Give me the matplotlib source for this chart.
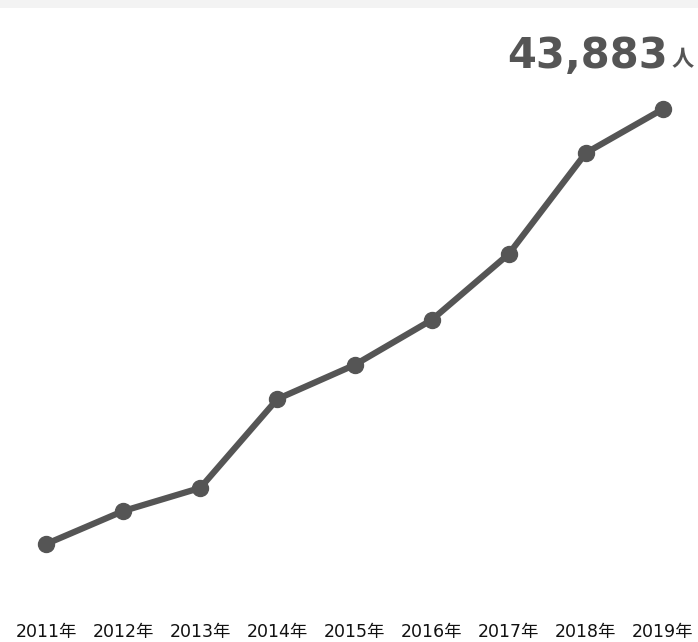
import matplotlib
matplotlib.use("Agg")
import matplotlib.pyplot as plt
from matplotlib.patches import Rectangle

years = ["2011年", "2012年", "2013年", "2014年", "2015年", "2016年", "2017年", "2018年", "2019年"]
values = [20000, 21810, 23080, 27960, 29830, 32300, 35920, 41470, 43883]
headline = "43,883"
unit = "人"

W, H = 698, 642
fig = plt.figure(figsize=(W / 100, H / 100), dpi=100)
fig.patch.set_facecolor("white")
fig.patches.append(Rectangle((0, 1 - 8 / H), 1, 8 / H, transform=fig.transFigure,
                             facecolor="#f3f3f3", edgecolor="none", zorder=0))

bottom_px = 623
ax = fig.add_axes([0, (H - bottom_px) / H, 1, (bottom_px - 8) / H])
ax.set_facecolor("none")
x = list(range(len(years)))
ax.plot(x, values, color="#555555", linewidth=4.5, marker="o", markersize=11.5,
        solid_capstyle="round", zorder=3)

sp = 77.1
ax.set_xlim(-46 / sp, 8 + (W - 663) / sp)
k = 54.9
ax.set_ylim(43883 - (bottom_px - 109) * k, 43883 + (109 - 8) * k)

ax.set_xticks(x)
ax.set_xticklabels(years, family=["DejaVu Sans", "Noto Sans CJK JP"], fontsize=12.5, color="#111111")
ax.tick_params(axis="x", length=0, pad=0)
ax.set_yticks([])
for s in ax.spines.values():
    s.set_visible(False)

fig.text(668 / W, 1 - 68 / H, headline, ha="right", va="baseline", fontsize=30,
         fontweight="bold", color="#555555", family="DejaVu Sans")
fig.text(671 / W, 1 - 66 / H, unit, ha="left", va="baseline", fontsize=16,
         fontweight="bold", color="#555555", family=["Noto Sans CJK JP", "DejaVu Sans"])

fig.savefig("out.png", dpi=100)
